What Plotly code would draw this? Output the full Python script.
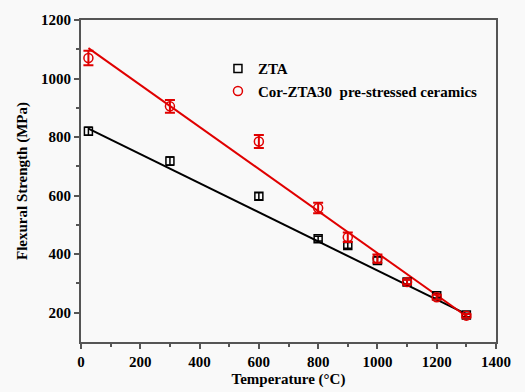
import plotly.graph_objects as go

temps = [25, 300, 600, 800, 900, 1000, 1100, 1200, 1300]
zta = [820, 718, 598, 453, 430, 378, 305, 258, 192]
zta_err = [14, 14, 12, 8, 10, 12, 8, 8, 6]
cor = [1070, 905, 785, 558, 458, 385, 305, 253, 190]
cor_err = [25, 22, 22, 18, 16, 14, 8, 8, 6]

zta_fit_x = [25, 1300]
zta_fit_y = [829, 195]
cor_fit_x = [25, 1300]
cor_fit_y = [1104, 188]

font = "Liberation Serif"
fig = go.Figure()
fig.add_trace(go.Scatter(x=zta_fit_x, y=zta_fit_y, mode="lines",
                         line=dict(color="black", width=2), showlegend=False))
fig.add_trace(go.Scatter(x=cor_fit_x, y=cor_fit_y, mode="lines",
                         line=dict(color="#e00000", width=2), showlegend=False))
fig.add_trace(go.Scatter(x=temps, y=zta, mode="markers", name="ZTA",
                         marker=dict(symbol="square-open", size=8, color="black",
                                     line=dict(width=1.5)),
                         error_y=dict(type="data", array=zta_err, color="black",
                                      thickness=1.5, width=4)))
fig.add_trace(go.Scatter(x=temps, y=cor, mode="markers",
                         name="Cor-ZTA30  pre-stressed ceramics",
                         marker=dict(symbol="circle-open", size=9, color="#e00000",
                                     line=dict(width=1.5)),
                         error_y=dict(type="data", array=cor_err, color="#e00000",
                                      thickness=2, width=5)))

bold = dict(family=font, size=15, color="black", weight="bold")
axis_common = dict(showline=True, linecolor="#555555", linewidth=2, mirror=True,
                   ticks="outside", tickcolor="#555555", tickwidth=1.5, ticklen=5,
                   showgrid=False, zeroline=False, automargin=False,
                   tickfont=bold)
fig.update_xaxes(range=[0, 1400], dtick=200,
                 minor=dict(dtick=100, ticks="outside", ticklen=3,
                            tickcolor="#555555", tickwidth=1.5),
                 title=dict(text="Temperature (°C)", font=bold, standoff=4),
                 **axis_common)
fig.update_yaxes(range=[100, 1200], tickvals=[200, 400, 600, 800, 1000, 1200],
                 minor=dict(tickvals=[300, 500, 700, 900, 1100], ticks="outside",
                            ticklen=3, tickcolor="#555555", tickwidth=1.5),
                 title=dict(text="Flexural Strength (MPa)", font=bold, standoff=10),
                 **axis_common)
fig.update_layout(width=525, height=392,
                  margin=dict(l=81, r=29, t=20, b=50),
                  paper_bgcolor="#f9f9f9", plot_bgcolor="#f9f9f9",
                  legend=dict(x=0.33, y=0.90, xanchor="left", yanchor="top",
                              bgcolor="rgba(0,0,0,0)", font=bold,
                              itemwidth=30, tracegroupgap=0))
fig.write_html("out.html", config={"displayModeBar": False},
               post_script="document.body.style.margin='0';document.body.style.background='#f9f9f9';")
